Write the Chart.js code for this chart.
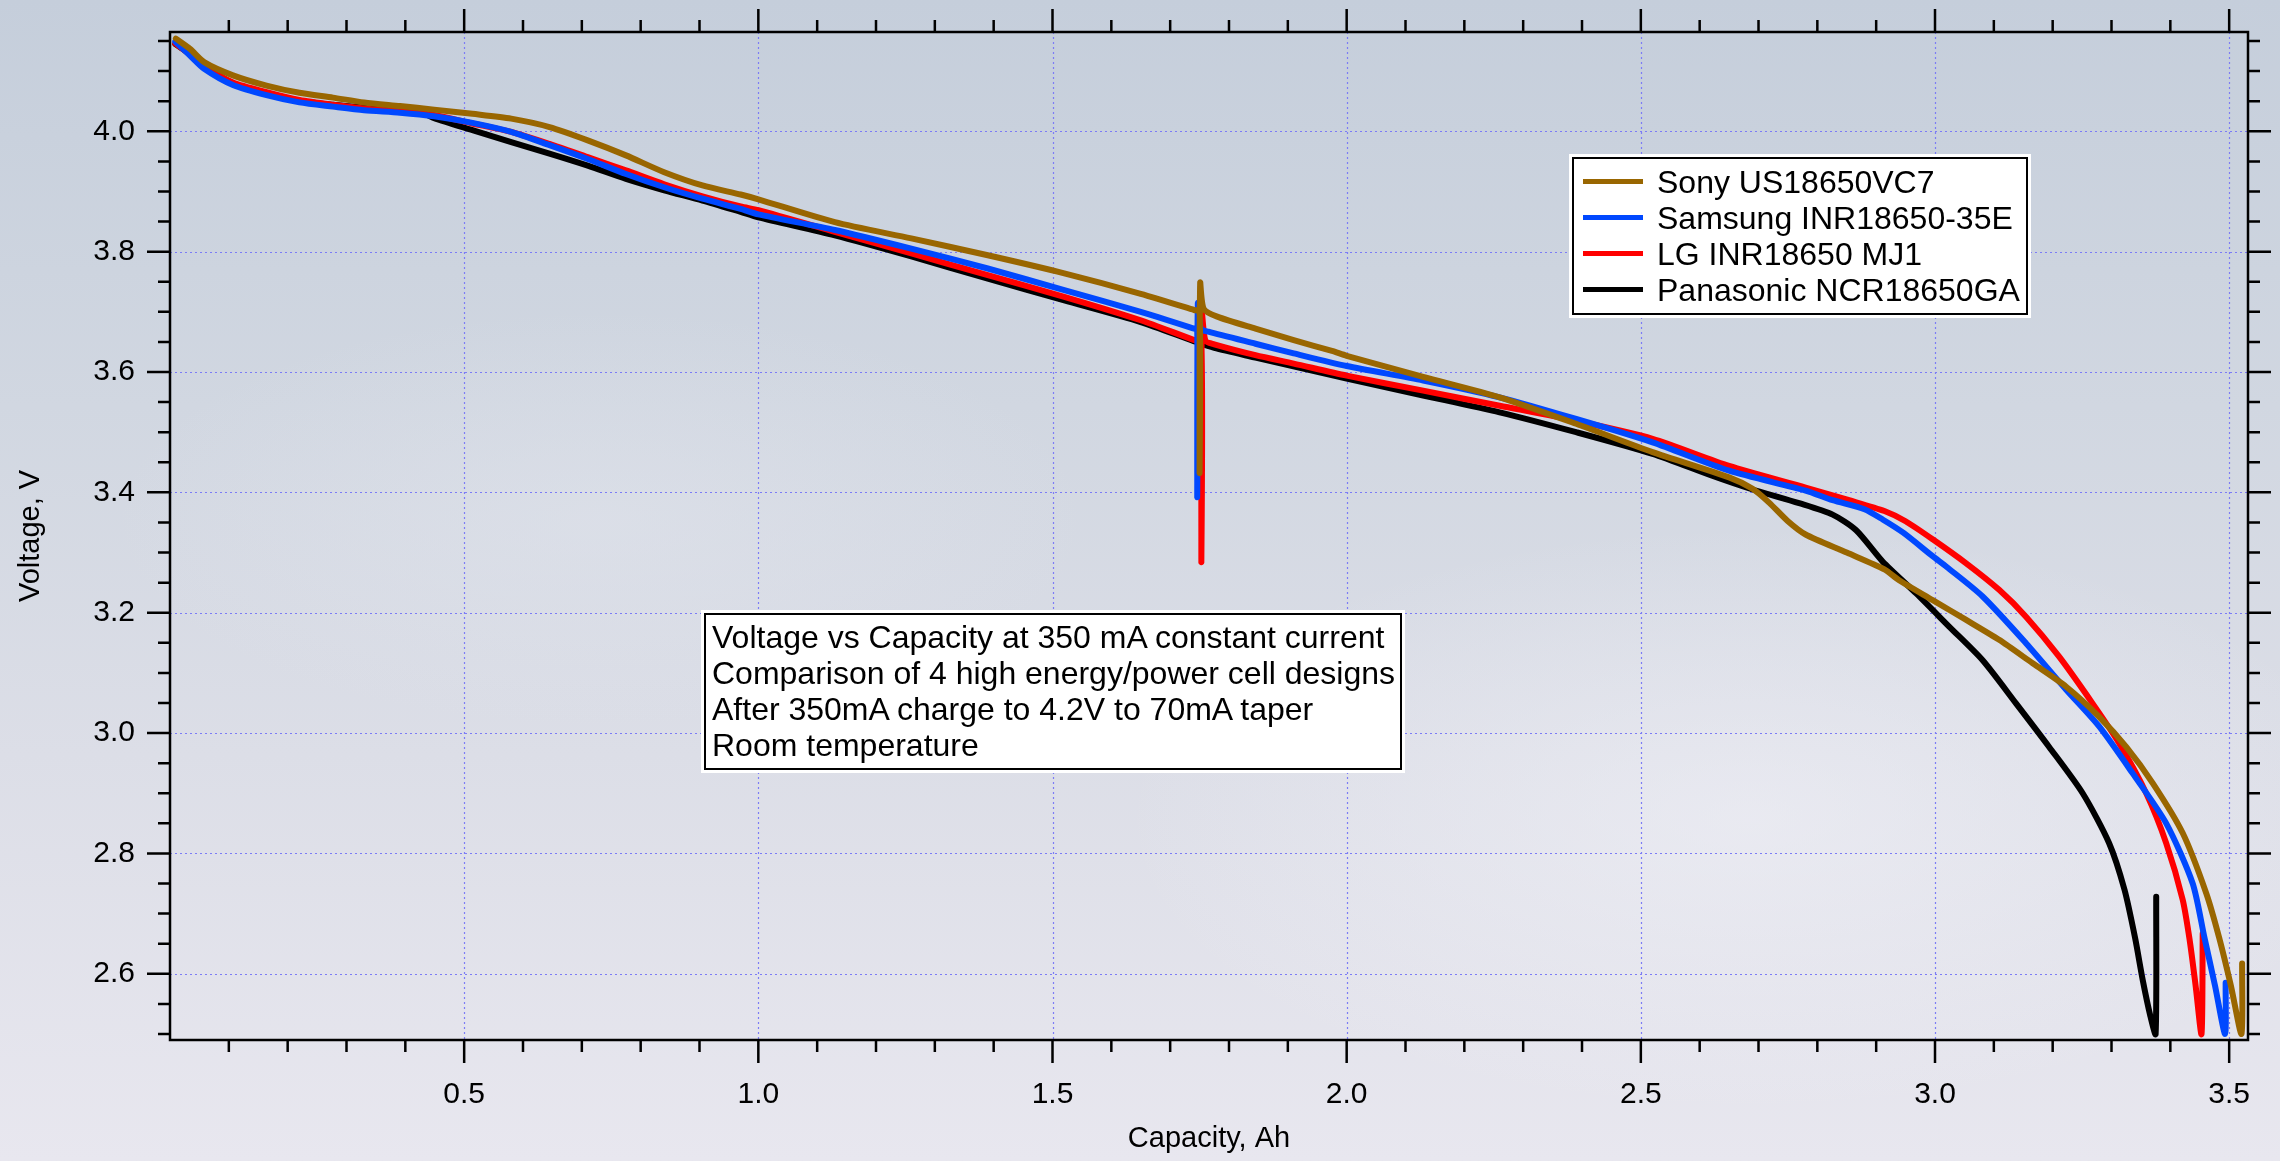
<!DOCTYPE html>
<html>
<head>
<meta charset="utf-8">
<title>Voltage vs Capacity</title>
<script src="https://cdn.jsdelivr.net/npm/chart.js@4.4.1/dist/chart.umd.min.js"></script>
<style>
  html, body { margin: 0; padding: 0; }
  body {
    width: 2280px; height: 1161px; overflow: hidden; position: relative;
    font-family: "Liberation Sans", Arial, Helvetica, sans-serif;
    background:
      radial-gradient(ellipse 900px 420px at 1750px 820px, rgba(242,242,248,0.55), rgba(242,242,248,0) 70%),
      radial-gradient(ellipse 700px 300px at 600px 520px, rgba(226,229,237,0.45), rgba(226,229,237,0) 70%),
      linear-gradient(180deg, #c5cedb 0%, #d1d7e1 35%, #dcdee7 65%, #e8e7ef 100%);
  }
  #wrap { position: absolute; left: 0; top: 0; width: 2280px; height: 1161px; }
  .box {
    position: absolute; box-sizing: border-box; background: #fff;
    border: 2.5px solid #000; box-shadow: 0 0 0 3px #fff;
    font-size: 32px; line-height: 36px; color: #000; white-space: nowrap;
  }
  #legend { left: 1572px; top: 157px; width: 456px; height: 158px; padding: 5px 0 0 9px; }
  #legend .row { position: relative; height: 36px; padding-left: 74px; }
  #legend .row span.swatch { position: absolute; left: 0; top: 15px; width: 60px; height: 5px; }
  #note { left: 704px; top: 613px; width: 698px; height: 157px; padding: 4px 0 0 6px; }
</style>
</head>
<body>
<div id="wrap"><canvas id="chart" width="2280" height="1161"></canvas></div>
<div id="legend" class="box"></div>
<div id="note" class="box"></div>
<script>
// Sony US18650VC7
const sonyCap = [0.010, 0.034, 0.058, 0.107, 0.164, 0.22, 0.277, 0.33, 0.391, 0.449,
  0.514, 0.58, 0.645, 0.71, 0.775, 0.84, 0.905, 0.97, 1.0, 1.13,
  1.26, 1.39, 1.52, 1.65, 1.741, 1.750, 1.750, 1.751, 1.757, 1.78,
  1.845, 1.91, 1.975, 2.0, 2.13, 2.26, 2.39, 2.52, 2.65, 2.69,
  2.718, 2.75, 2.78, 2.85, 2.914, 2.939, 2.996, 3.053, 3.109, 3.166,
  3.223, 3.279, 3.325, 3.37, 3.421, 3.461, 3.483, 3.503, 3.521, 3.522];
const sonyVolt = [4.154, 4.137, 4.115, 4.093, 4.076, 4.064, 4.056, 4.048, 4.042, 4.036,
  4.029, 4.021, 4.007, 3.985, 3.96, 3.932, 3.91, 3.895, 3.887, 3.849,
  3.822, 3.794, 3.764, 3.73, 3.703, 3.70, 3.432, 3.748, 3.705, 3.692,
  3.672, 3.653, 3.635, 3.627, 3.592, 3.558, 3.514, 3.467, 3.425, 3.406,
  3.383, 3.352, 3.33, 3.30, 3.272, 3.254, 3.221, 3.188, 3.155, 3.116,
  3.077, 3.027, 2.977, 2.917, 2.834, 2.734, 2.66, 2.58, 2.50, 2.617];

// Samsung INR18650-35E
const samsungCap = [0.009, 0.034, 0.058, 0.107, 0.164, 0.22, 0.277, 0.33, 0.391, 0.449,
  0.514, 0.58, 0.645, 0.71, 0.775, 0.84, 0.905, 0.97, 1.0, 1.13,
  1.26, 1.39, 1.52, 1.65, 1.741, 1.746, 1.746, 1.747, 1.752, 1.765,
  1.845, 1.91, 2.0, 2.13, 2.26, 2.39, 2.52, 2.65, 2.78, 2.826,
  2.88, 2.911, 2.946, 2.996, 3.02, 3.081, 3.155, 3.223, 3.279, 3.336,
  3.393, 3.438, 3.458, 3.476, 3.493, 3.494];
const samsungVolt = [4.149, 4.126, 4.104, 4.077, 4.06, 4.048, 4.041, 4.035, 4.031, 4.025,
  4.014, 3.999, 3.977, 3.954, 3.929, 3.907, 3.888, 3.871, 3.862, 3.836,
  3.805, 3.772, 3.736, 3.70, 3.672, 3.670, 3.392, 3.714, 3.672, 3.667,
  3.647, 3.631, 3.610, 3.586, 3.558, 3.522, 3.483, 3.436, 3.403, 3.387,
  3.372, 3.355, 3.333, 3.294, 3.276, 3.227, 3.149, 3.072, 3.011, 2.933,
  2.85, 2.75, 2.66, 2.58, 2.50, 2.585];

// LG INR18650 MJ1
const lgCap = [0.009, 0.034, 0.058, 0.107, 0.164, 0.22, 0.277, 0.33, 0.391, 0.449,
  0.514, 0.58, 0.645, 0.71, 0.775, 0.84, 0.905, 0.97, 1.0, 1.13,
  1.26, 1.39, 1.52, 1.65, 1.741, 1.753, 1.753, 1.754, 1.76, 1.775,
  1.845, 1.91, 2.0, 2.13, 2.26, 2.39, 2.52, 2.65, 2.78, 2.854,
  2.914, 2.95, 2.996, 3.053, 3.109, 3.155, 3.211, 3.268, 3.313, 3.359,
  3.393, 3.421, 3.433, 3.443, 3.453, 3.455];
const lgVolt = [4.146, 4.128, 4.108, 4.081, 4.065, 4.052, 4.044, 4.038, 4.033, 4.027,
  4.013, 3.999, 3.979, 3.957, 3.935, 3.912, 3.892, 3.875, 3.869, 3.833,
  3.797, 3.761, 3.725, 3.686, 3.653, 3.650, 3.284, 3.697, 3.652, 3.646,
  3.628, 3.614, 3.594, 3.569, 3.544, 3.519, 3.489, 3.444, 3.408, 3.387,
  3.369, 3.352, 3.322, 3.282, 3.238, 3.193, 3.127, 3.049, 2.983, 2.90,
  2.817, 2.723, 2.655, 2.58, 2.50, 2.667];

// Panasonic NCR18650GA
const panaCap = [0.009, 0.034, 0.058, 0.107, 0.164, 0.22, 0.277, 0.33, 0.391, 0.43,
  0.449, 0.514, 0.58, 0.645, 0.71, 0.775, 0.84, 0.905, 0.97, 1.0,
  1.13, 1.26, 1.39, 1.52, 1.65, 1.741, 1.775, 1.845, 2.0, 2.13,
  2.26, 2.39, 2.52, 2.62, 2.686, 2.769, 2.826, 2.866, 2.911, 2.968,
  3.024, 3.081, 3.138, 3.194, 3.251, 3.296, 3.322, 3.340, 3.353, 3.366,
  3.375, 3.376];
const panaVolt = [4.145, 4.128, 4.108, 4.08, 4.064, 4.051, 4.044, 4.039, 4.034, 4.03,
  4.022, 4.002, 3.982, 3.963, 3.943, 3.921, 3.902, 3.885, 3.866, 3.857,
  3.827, 3.792, 3.755, 3.719, 3.683, 3.651, 3.640, 3.624, 3.589, 3.561,
  3.533, 3.50, 3.464, 3.428, 3.406, 3.382, 3.363, 3.337, 3.285, 3.232,
  3.177, 3.121, 3.049, 2.977, 2.90, 2.817, 2.74, 2.66, 2.59, 2.53,
  2.50, 2.728];

const cellNames = ["Sony US18650VC7", "Samsung INR18650-35E", "LG INR18650 MJ1", "Panasonic NCR18650GA"];
const cellColors = ["#996600", "#0048ff", "#ff0000", "#000000"];

// axis ticks
const capTicks = [0.5, 1.0, 1.5, 2.0, 2.5, 3.0, 3.5];
const voltTicks = [2.6, 2.8, 3.0, 3.2, 3.4, 3.6, 3.8, 4.0];
const capMinor = [];
for (let i = 1; i <= 35; i++) capMinor.push(i / 10);
const voltMinor = [];
for (let i = 50; i <= 83; i++) voltMinor.push(i / 20);

const noteLines = [
  "Voltage vs Capacity at 350 mA constant current",
  "Comparison of 4 high energy/power cell designs",
  "After 350mA charge to 4.2V to 70mA taper",
  "Room temperature"
];

const FONT = '"Liberation Sans", Arial, Helvetica, sans-serif';

function toPoints(cap, volt) {
  return cap.map((c, i) => ({ x: c, y: volt[i] }));
}

const series = [
  toPoints(sonyCap, sonyVolt),
  toPoints(samsungCap, samsungVolt),
  toPoints(lgCap, lgVolt),
  toPoints(panaCap, panaVolt)
];

function isMajor(v, list) {
  return list.some(m => Math.abs(m - v) < 1e-6);
}

// dotted grid, frame and tick marks on all four sides
const framePlugin = {
  id: "frame",
  beforeDatasetsDraw(chart) {
    const { ctx, chartArea: a, scales: { x, y } } = chart;
    ctx.save();
    ctx.strokeStyle = "#7c7cf6";
    ctx.lineWidth = 1.2;
    ctx.setLineDash([2, 3]);
    capTicks.forEach(v => {
      const px = Math.round(x.getPixelForValue(v)) + 0.5;
      ctx.beginPath(); ctx.moveTo(px, a.top); ctx.lineTo(px, a.bottom); ctx.stroke();
    });
    voltTicks.forEach(v => {
      const py = Math.round(y.getPixelForValue(v)) + 0.5;
      ctx.beginPath(); ctx.moveTo(a.left, py); ctx.lineTo(a.right, py); ctx.stroke();
    });
    ctx.restore();
  },
  afterDatasetsDraw(chart) {
    const { ctx, chartArea: a, scales: { x, y } } = chart;
    const majorLen = 23, minorLen = 12;
    ctx.save();
    ctx.strokeStyle = "#000";
    ctx.lineWidth = 2.5;
    ctx.beginPath();
    capMinor.forEach(v => {
      const px = x.getPixelForValue(v);
      const len = isMajor(v, capTicks) ? majorLen : minorLen;
      ctx.moveTo(px, a.bottom); ctx.lineTo(px, a.bottom + len);
      ctx.moveTo(px, a.top); ctx.lineTo(px, a.top - len);
    });
    voltMinor.forEach(v => {
      const py = y.getPixelForValue(v);
      const len = isMajor(v, voltTicks) ? majorLen : minorLen;
      ctx.moveTo(a.left, py); ctx.lineTo(a.left - len, py);
      ctx.moveTo(a.right, py); ctx.lineTo(a.right + len, py);
    });
    ctx.stroke();
    ctx.strokeRect(a.left, a.top, a.right - a.left, a.bottom - a.top);
    ctx.restore();
  }
};

const chart = new Chart(document.getElementById("chart"), {
  type: "scatter",
  data: {
    datasets: series.map((pts, i) => ({
      label: cellNames[i],
      data: pts,
      showLine: true,
      borderColor: cellColors[i],
      backgroundColor: cellColors[i],
      borderWidth: 6,
      borderJoinStyle: "round",
      borderCapStyle: "round",
      pointRadius: 0,
      pointHoverRadius: 0,
      tension: 0.25
    }))
  },
  options: {
    responsive: false,
    animation: false,
    devicePixelRatio: 1,
    layout: { padding: { left: 0, right: 32, top: 32, bottom: 0 } },
    plugins: { legend: { display: false }, tooltip: { enabled: false } },
    scales: {
      x: {
        type: "linear", min: 0, max: 3.532,
        grid: { display: false, drawTicks: false },
        border: { display: false },
        afterBuildTicks: s => { s.ticks = capTicks.map(v => ({ value: v })); },
        afterFit: s => { s.height = 121; s.paddingLeft = 0; s.paddingRight = 0; },
        ticks: {
          color: "#000", padding: 37, maxRotation: 0, autoSkip: false,
          font: { family: FONT, size: 30 },
          callback: v => Number(v).toFixed(1)
        },
        title: {
          display: true, text: "Capacity, Ah", color: "#000",
          font: { family: FONT, size: 29 }, padding: { top: 0, bottom: 5 }
        }
      },
      y: {
        type: "linear", min: 2.49, max: 4.165,
        grid: { display: false, drawTicks: false },
        border: { display: false },
        afterBuildTicks: s => { s.ticks = voltTicks.map(v => ({ value: v })); },
        afterFit: s => { s.width = 170; s.paddingTop = 0; s.paddingBottom = 0; },
        ticks: {
          color: "#000", padding: 35, autoSkip: false,
          font: { family: FONT, size: 30 },
          callback: v => Number(v).toFixed(1)
        },
        title: {
          display: true, text: "Voltage, V", color: "#000",
          font: { family: FONT, size: 29 }, padding: { top: 14, bottom: 0 }
        }
      }
    }
  },
  plugins: [framePlugin]
});

// legend box built from the datasets
const legendEl = document.getElementById("legend");
chart.data.datasets.forEach(ds => {
  const row = document.createElement("div");
  row.className = "row";
  const sw = document.createElement("span");
  sw.className = "swatch";
  sw.style.background = ds.borderColor;
  row.appendChild(sw);
  row.appendChild(document.createTextNode(ds.label));
  legendEl.appendChild(row);
});

// annotation box
const noteEl = document.getElementById("note");
noteLines.forEach(t => {
  const d = document.createElement("div");
  d.textContent = t;
  noteEl.appendChild(d);
});
</script>
</body>
</html>
